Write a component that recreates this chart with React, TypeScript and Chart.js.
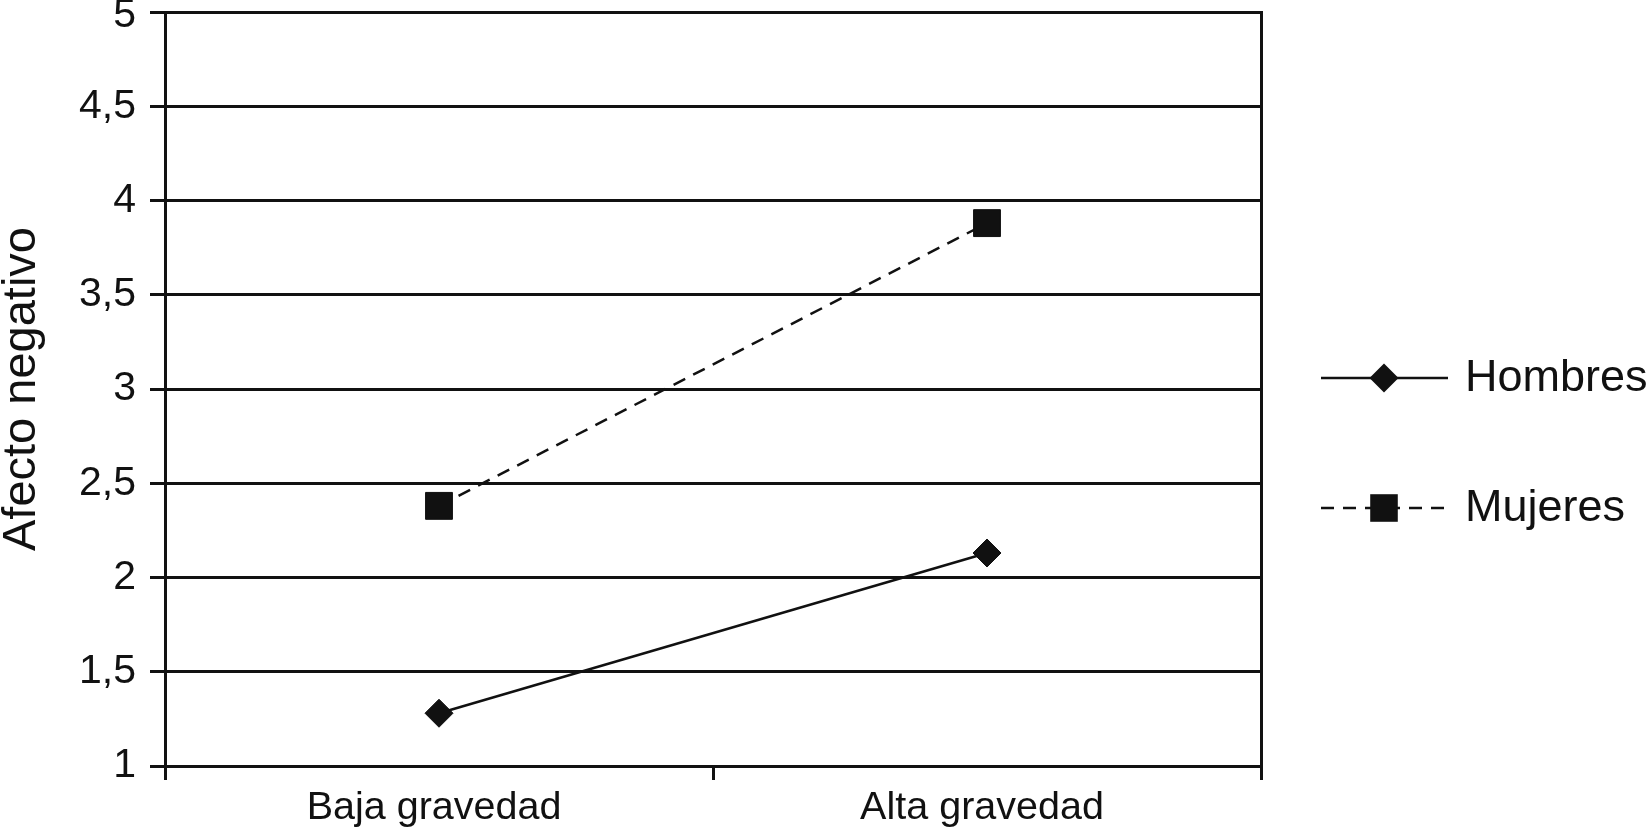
import React, { useEffect, useRef } from 'react';
import { Chart, registerables } from 'chart.js';

Chart.register(...registerables);

const categories = ['Baja gravedad', 'Alta gravedad'];
const hombres = [1.28, 2.13];
const mujeres = [2.38, 3.88];
const seriesNames = ['Hombres', 'Mujeres'];
const yTickLabels = ['1', '1,5', '2', '2,5', '3', '3,5', '4', '4,5', '5'];
const yAxisTitle = 'Afecto negativo';

const INK = '#111111';
const FONT = "'Liberation Sans', Arial, Helvetica, sans-serif";

const frameRight = {
  id: 'frameRight',
  afterDatasetsDraw(chart: any) {
    const { ctx, chartArea } = chart;
    ctx.save();
    ctx.strokeStyle = INK;
    ctx.lineWidth = 3;
    ctx.beginPath();
    ctx.moveTo(chartArea.right + 0.5, chartArea.top - 1);
    ctx.lineTo(chartArea.right + 0.5, chartArea.bottom + 1);
    ctx.stroke();
    ctx.restore();
  },
};

function drawMarker(ctx: CanvasRenderingContext2D, style: string, x: number, y: number, r: number) {
  ctx.beginPath();
  if (style === 'rect') {
    const s = Math.SQRT1_2 * r;
    ctx.rect(x - s, y - s, 2 * s, 2 * s);
  } else {
    ctx.moveTo(x - r, y);
    ctx.lineTo(x, y - r);
    ctx.lineTo(x + r, y);
    ctx.lineTo(x, y + r);
    ctx.closePath();
  }
  ctx.fill();
}

const customLegend = {
  id: 'customLegend',
  afterDraw(chart: any) {
    const { ctx, chartArea } = chart;
    const x0 = chartArea.right + 60;
    const x1 = x0 + 127;
    const xm = x0 + 63;
    const ys = [378, 508];
    ctx.save();
    chart.data.datasets.forEach((ds: any, i: number) => {
      const y = ys[i];
      ctx.strokeStyle = INK;
      ctx.fillStyle = INK;
      ctx.lineWidth = 2.5;
      ctx.setLineDash(ds.borderDash || []);
      ctx.beginPath();
      ctx.moveTo(x0, y);
      ctx.lineTo(x1, y);
      ctx.stroke();
      ctx.setLineDash([]);
      drawMarker(ctx, ds.pointStyle, xm, y, ds.pointStyle === 'rect' ? 19.5 : 14.5);
      ctx.font = `45px ${FONT}`;
      ctx.textBaseline = 'middle';
      ctx.textAlign = 'left';
      ctx.fillText(ds.label, x1 + 17, y + 1);
    });
    ctx.restore();
  },
};

export default function App() {
  const ref = useRef<HTMLCanvasElement>(null);
  useEffect(() => {
    const prevMargin = document.body.style.margin;
    document.body.style.margin = '0';
    const lastIndex = yTickLabels.length - 1;
    const chart = new Chart(ref.current as HTMLCanvasElement, {
      type: 'line',
      data: {
        labels: categories,
        datasets: [
          {
            label: seriesNames[0],
            data: hombres,
            borderColor: INK,
            backgroundColor: INK,
            borderWidth: 2.5,
            pointStyle: 'rectRot',
            pointRadius: 14,
            pointBorderWidth: 1,
            pointBackgroundColor: INK,
            pointBorderColor: INK,
          },
          {
            label: seriesNames[1],
            data: mujeres,
            borderColor: INK,
            backgroundColor: INK,
            borderWidth: 2.5,
            borderDash: [13, 9],
            pointStyle: 'rect',
            pointRadius: 19,
            pointBorderWidth: 1,
            pointBackgroundColor: INK,
            pointBorderColor: INK,
          },
        ],
      },
      options: {
        responsive: false,
        animation: false,
        layout: { autoPadding: false, padding: { top: 12, right: 389, bottom: 0, left: 0 } },
        plugins: { legend: { display: false }, tooltip: { enabled: false } },
        scales: {
          x: {
            type: 'category',
            offset: true,
            grid: {
              offset: true,
              drawOnChartArea: false,
              drawTicks: true,
              tickLength: 14,
              color: INK,
              lineWidth: 3,
            },
            border: { display: true, color: INK, width: 3 },
            ticks: {
              color: INK,
              padding: 4,
              labelOffset: -5,
              font: { family: FONT, size: 39.5 },
            },
            afterFit(scale: any) {
              scale.height = 62;
              scale.paddingLeft = 0;
              scale.paddingRight = 0;
            },
          },
          y: {
            min: 1,
            max: 5,
            ticks: {
              stepSize: 0.5,
              color: INK,
              padding: 14,
              font: { family: FONT, size: 41, lineHeight: 0.2 },
              callback: (_v: any, i: number) => (i === lastIndex ? ['', yTickLabels[i]] : yTickLabels[i]),
            },
            grid: { color: INK, lineWidth: 3, tickLength: 15, drawTicks: true },
            border: { display: true, color: INK, width: 3 },
            title: {
              display: true,
              text: yAxisTitle,
              color: INK,
              padding: { top: 0, bottom: 0 },
              font: { family: FONT, size: 47, lineHeight: 0.95 },
            },
            afterFit(scale: any) {
              scale.width = 165;
              scale.paddingTop = 0;
              scale.paddingBottom = 0;
            },
          },
        },
      },
      plugins: [frameRight, customLegend],
    } as any);
    return () => {
      chart.destroy();
      document.body.style.margin = prevMargin;
    };
  }, []);
  return (
    <div style={{ position: 'fixed', left: 0, top: 0, width: 1650, height: 828, background: '#fff' }}>
      <canvas ref={ref} width={1650} height={828} />
    </div>
  );
}
